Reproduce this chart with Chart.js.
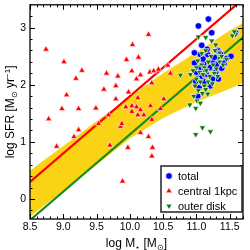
<!DOCTYPE html>
<html>
<head>
<meta charset="utf-8">
<script src="https://cdn.jsdelivr.net/npm/chart.js@4/dist/chart.umd.min.js"></script>
<style>
html, body { margin: 0; padding: 0; background: #fff; }
canvas { display: block; }
</style>
</head>
<body>
<canvas id="c" width="250" height="250"></canvas>
<script>
// log M* (x) and log SFR (y)
const totalMass = [11.03, 11.18, 11.23, 11.08, 10.97, 11.06, 11.17, 11.32, 11.36, 11.45, 11.24, 11.11, 10.97, 11.38, 11.29, 11.15, 11.33, 11.24, 10.99, 11.21, 11.02, 11.59, 11.05, 11.10, 11.20, 11.27, 11.12, 11.08, 11.00, 11.42, 11.30, 11.16, 11.04, 11.52, 11.13]
const totalSfr = [3.03, 3.15, 2.91, 2.69, 2.56, 2.53, 2.53, 2.60, 2.55, 2.46, 2.41, 2.37, 2.38, 2.29, 2.22, 2.18, 2.10, 2.10, 2.06, 1.98, 1.80, 2.91, 2.30, 2.45, 2.30, 2.48, 2.05, 2.15, 2.22, 2.38, 2.35, 2.62, 1.95, 2.50, 2.27]

const centralMass = [8.74, 9.01, 9.28, 9.19, 9.65, 9.82, 9.61, 9.79, 9.05, 9.79, 8.98, 9.23, 9.49, 8.78, 9.68, 10.28, 10.04, 10.13, 9.95, 10.03, 10.10, 10.16, 10.30, 10.36, 10.43, 10.57, 10.61, 10.33, 9.98, 10.12, 9.94, 10.03, 10.10, 10.16, 10.12, 10.21, 10.31, 10.46, 10.51, 10.33, 10.03, 8.90, 9.16, 9.23, 9.70, 9.89, 9.86, 9.53, 9.88, 9.97, 10.16, 10.28, 10.34, 10.33]
const centralSfr = [2.62, 2.40, 2.25, 2.11, 2.20, 2.15, 1.92, 1.98, 1.82, 1.75, 1.58, 1.58, 1.59, 1.40, 1.47, 2.88, 2.70, 2.48, 2.44, 2.24, 2.10, 2.17, 2.22, 2.24, 2.27, 2.34, 2.20, 2.03, 1.87, 1.77, 1.61, 1.63, 1.61, 1.56, 1.47, 1.47, 1.63, 1.58, 1.75, 1.39, 1.53, 0.92, 1.09, 1.21, 0.94, 0.31, 1.27, 1.32, 1.32, 0.90, 1.16, 1.09, 0.90, 0.75]

const outerMass = [11.03, 11.14, 11.23, 11.29, 11.35, 11.59, 11.54, 11.57, 10.76, 10.91, 10.90, 10.99, 11.09, 10.99, 11.21, 11.17, 11.02, 11.08, 11.12, 11.18, 11.25, 11.30, 11.35, 11.40, 11.05, 11.10, 11.15, 11.20, 11.27, 11.32, 11.00, 11.06, 11.12, 11.18, 11.24, 10.98, 11.03, 11.09, 11.14, 10.96, 11.01, 11.06, 11.45, 11.38, 11.22, 11.08, 11.14, 11.00, 10.95, 11.28]
const outerSfr = [2.84, 2.83, 2.77, 2.70, 2.56, 2.88, 2.86, 2.93, 2.17, 2.18, 1.65, 1.59, 1.25, 1.13, 1.18, 1.84, 2.42, 2.35, 2.30, 2.40, 2.35, 2.28, 2.40, 2.35, 2.22, 2.18, 2.25, 2.15, 2.20, 2.15, 2.10, 2.05, 1.98, 2.05, 2.02, 1.98, 1.90, 1.85, 1.92, 1.80, 1.72, 1.68, 2.45, 2.50, 2.50, 2.55, 2.60, 2.30, 2.25, 2.60]

// yellow band
const bandMass = [8.5, 9.0, 9.5, 10.0, 10.5, 11.0, 11.5, 11.7]
const bandHigh = [0.50, 0.93, 1.36, 1.79, 2.20, 2.57, 2.95, 3.08]
const bandLow = [-0.31, 0.15, 0.60, 1.06, 1.42, 1.70, 1.93, 2.03]

// the two straight relations
const lineMass = [8.5, 11.7]
const redSfr = [0.30, 3.50]
const greenSfr = [-0.37, 2.83]

const xTicks = [8.5, 9.0, 9.5, 10.0, 10.5, 11.0, 11.5]
const yTicks = [0, 1, 2, 3]

const pts = (xs, ys) => xs.map((v, i) => ({x: v, y: ys[i]}))

function drawRuns(ctx, runs, x, y) { // 带上下标的文字，居中
    let w = 0
    runs.forEach(r => { ctx.font = r[1] + 'px "Liberation Sans"'; w += ctx.measureText(r[0]).width })
    let cx = x - w / 2
    runs.forEach(r => {
        ctx.font = r[1] + 'px "Liberation Sans"'
        ctx.fillText(r[0], cx, y + r[2])
        cx += ctx.measureText(r[0]).width
    })
}

const frame = {
    id: 'frame',
    afterDraw(chart) {
        const {ctx, chartArea: a, scales: {x, y}} = chart
        ctx.save()
        ctx.strokeStyle = '#000'
        ctx.lineWidth = 1
        ctx.beginPath()
        for (let i = 85; i <= 117; i++) {
            const px = Math.round(x.getPixelForValue(i / 10)) + 0.5
            const len = i % 5 === 0 ? 5 : 2.5
            ctx.moveTo(px, a.bottom); ctx.lineTo(px, a.bottom - len)
            ctx.moveTo(px, a.top); ctx.lineTo(px, a.top + len)
        }
        for (let i = -1; i <= 17; i++) {
            const v = i * 0.2
            if (v < y.min || v > y.max) continue
            const py = Math.round(y.getPixelForValue(v)) + 0.5
            const len = i % 5 === 0 ? 5 : 2.5
            ctx.moveTo(a.left, py); ctx.lineTo(a.left + len, py)
            ctx.moveTo(a.right, py); ctx.lineTo(a.right - len, py)
        }
        ctx.stroke()
        ctx.lineWidth = 1.3
        ctx.strokeRect(a.left, a.top, a.right - a.left, a.bottom - a.top)

        // legend
        const lx = 161, ly = 166, lw = 81, lh = 46
        ctx.fillStyle = '#fff'
        ctx.fillRect(lx, ly, lw, lh)
        ctx.lineWidth = 1.5
        ctx.strokeStyle = '#222'
        ctx.strokeRect(lx, ly, lw, lh)
        const items = [2, 3, 4]
        items.forEach((di, k) => {
            const ds = chart.data.datasets[di]
            const yy = ly + 10 + k * 15
            ctx.fillStyle = ds.backgroundColor
            ctx.strokeStyle = ds.borderColor
            ctx.lineWidth = ds.borderWidth
            Chart.helpers.drawPoint(ctx, {pointStyle: ds.pointStyle, radius: ds.pointRadius, rotation: ds.rotation || 0, borderWidth: ds.borderWidth}, lx + 8, yy)
            ctx.fillStyle = '#000'
            ctx.font = '11px "Liberation Sans"'
            ctx.textBaseline = 'middle'
            ctx.textAlign = 'left'
            ctx.fillText(ds.label, lx + 17, yy + 0.5)
        })

        // axis titles
        ctx.fillStyle = '#000'
        ctx.textBaseline = 'alphabetic'
        ctx.textAlign = 'left'
        drawRuns(ctx, [['log M', 12, 0], ['\u22c6', 8, 3], [' [M', 12, 0], ['\u2299', 8, 3], [']', 12, 0]], (a.left + a.right) / 2, 247)
        ctx.translate(14, (a.top + a.bottom) / 2)
        ctx.rotate(-Math.PI / 2)
        drawRuns(ctx, [['log SFR [M', 12, 0], ['\u2299', 8, 3], [' yr', 12, 0], ['\u22121', 8, -4], [']', 12, 0]], 0, 0)
        ctx.restore()
    }
}

new Chart(document.getElementById('c'), {
    type: 'scatter',
    data: {
        datasets: [
            {label: 'low', data: pts(bandMass, bandLow), showLine: true, pointRadius: 0, borderWidth: 0, borderColor: '#fad414', order: 10},
            {label: 'high', data: pts(bandMass, bandHigh), showLine: true, pointRadius: 0, borderWidth: 0, borderColor: '#fad414', backgroundColor: '#fad414', fill: '-1', order: 9},
            {label: 'total', data: pts(totalMass, totalSfr), pointStyle: 'circle', pointRadius: 3.3, backgroundColor: '#0000ff', borderColor: 'rgba(255,255,255,0.85)', borderWidth: 0.8, order: 6},
            {label: 'central 1kpc', data: pts(centralMass, centralSfr), pointStyle: 'triangle', pointRadius: 3.6, backgroundColor: '#ff0000', borderColor: 'rgba(255,230,230,0.9)', borderWidth: 0.8, order: 5},
            {label: 'outer disk', data: pts(outerMass, outerSfr), pointStyle: 'triangle', rotation: 180, pointRotation: 180, pointRadius: 3.6, backgroundColor: '#0c780c', borderColor: 'rgba(255,255,255,0.85)', borderWidth: 0.8, order: 4},
            {label: 'red', data: pts(lineMass, redSfr), showLine: true, pointRadius: 0, borderWidth: 2.2, borderColor: '#ff0000', order: 7},
            {label: 'green', data: pts(lineMass, greenSfr), showLine: true, pointRadius: 0, borderWidth: 2.2, borderColor: '#1a8a1a', order: 8}
        ]
    },
    options: {
        responsive: false,
        animation: false,
        events: [],
        layout: {padding: {left: 0, right: 7, top: 3, bottom: 0}},
        plugins: {legend: {display: false}, tooltip: {enabled: false}},
        scales: {
            x: {
                type: 'linear', min: 8.5, max: 11.7,
                grid: {display: false, drawTicks: false}, border: {display: false},
                ticks: {
                    stepSize: 0.5, includeBounds: false, padding: 2, color: '#000',
                    font: {family: 'Liberation Sans', size: 10.5},
                    callback: v => xTicks.includes(Math.round(v * 10) / 10) ? v.toFixed(1) : ''
                },
                afterFit: s => { s.height = 31; s.paddingLeft = 0; s.paddingRight = 0 }
            },
            y: {
                type: 'linear', min: -0.35, max: 3.4,
                grid: {display: false, drawTicks: false}, border: {display: false},
                ticks: {
                    stepSize: 1, includeBounds: false, padding: 4, color: '#000',
                    font: {family: 'Liberation Sans', size: 10.5},
                    callback: v => yTicks.includes(v) ? String(v) : ''
                },
                afterFit: s => { s.width = 30; s.paddingTop = 0; s.paddingBottom = 0 }
            }
        }
    },
    plugins: [frame]
})
</script>
</body>
</html>
